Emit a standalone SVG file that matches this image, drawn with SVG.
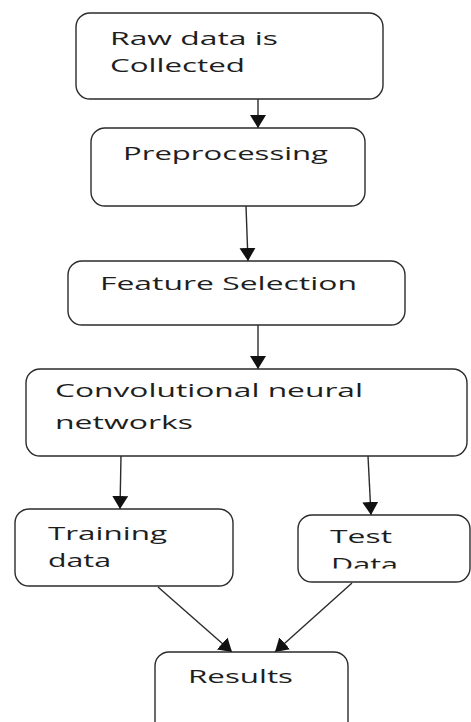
<svg xmlns="http://www.w3.org/2000/svg" width="471" height="722" viewBox="0 0 471 722">
<style>
.box{fill:#fff;stroke:#2b2b2b;stroke-width:1.4}
.t{font-family:"Open Sans","Noto Sans",sans-serif;font-size:19px;fill:#1e1e1e}
.c{stroke:#2b2b2b;stroke-width:1.4;fill:none;marker-end:url(#ah)}
</style>
<defs>
<marker id="ah" markerUnits="userSpaceOnUse" markerWidth="16" markerHeight="18" refX="13" refY="8" orient="auto">
<path d="M0,0 L13,8 L0,16 Z" fill="#111"/>
</marker>
<clipPath id="clipData"><rect x="290" y="540" width="181" height="28.5"/></clipPath>
</defs>
<rect width="471" height="722" fill="#fff"/>
<g id="connectors">
<line class="c" x1="258" y1="99" x2="258" y2="128"/>
<line class="c" x1="246" y1="206" x2="248" y2="261"/>
<line class="c" x1="258" y1="325" x2="258" y2="369"/>
<line class="c" x1="121" y1="456" x2="120" y2="509"/>
<line class="c" x1="368" y1="456" x2="371" y2="515"/>
<line class="c" x1="158" y1="587" x2="232" y2="652"/>
<line class="c" x1="352" y1="583" x2="275" y2="652"/>
</g>
<g id="raw">
<rect class="box" x="76" y="13" width="307" height="86" rx="14"/>
<text class="t" x="110" y="45" textLength="168" lengthAdjust="spacingAndGlyphs">Raw data is</text>
<text class="t" x="110" y="72" textLength="135" lengthAdjust="spacingAndGlyphs">Collected</text>
</g>
<g id="pre">
<rect class="box" x="91" y="128" width="274" height="78" rx="14"/>
<text class="t" x="123" y="160" textLength="205" lengthAdjust="spacingAndGlyphs">Preprocessing</text>
</g>
<g id="feat">
<rect class="box" x="68" y="261" width="337" height="64" rx="14"/>
<text class="t" x="100" y="290" textLength="257" lengthAdjust="spacingAndGlyphs">Feature Selection</text>
</g>
<g id="cnn">
<rect class="box" x="26" y="369" width="441" height="87" rx="14"/>
<text class="t" x="55" y="397" textLength="308" lengthAdjust="spacingAndGlyphs">Convolutional neural</text>
<text class="t" x="55" y="429" textLength="138" lengthAdjust="spacingAndGlyphs">networks</text>
</g>
<g id="train">
<rect class="box" x="15" y="509" width="218" height="77" rx="14"/>
<text class="t" x="48" y="540" textLength="119" lengthAdjust="spacingAndGlyphs">Training</text>
<text class="t" x="48" y="567" textLength="63" lengthAdjust="spacingAndGlyphs">data</text>
</g>
<g id="test">
<rect class="box" x="298" y="515" width="172" height="67" rx="14"/>
<text class="t" x="330" y="543" textLength="62" lengthAdjust="spacingAndGlyphs">Test</text>
<text class="t" x="331" y="571" textLength="67" lengthAdjust="spacingAndGlyphs" clip-path="url(#clipData)">Data</text>
</g>
<g id="results">
<rect class="box" x="155" y="652" width="193" height="85" rx="14"/>
<text class="t" x="188" y="683" textLength="105" lengthAdjust="spacingAndGlyphs">Results</text>
</g>
</svg>
